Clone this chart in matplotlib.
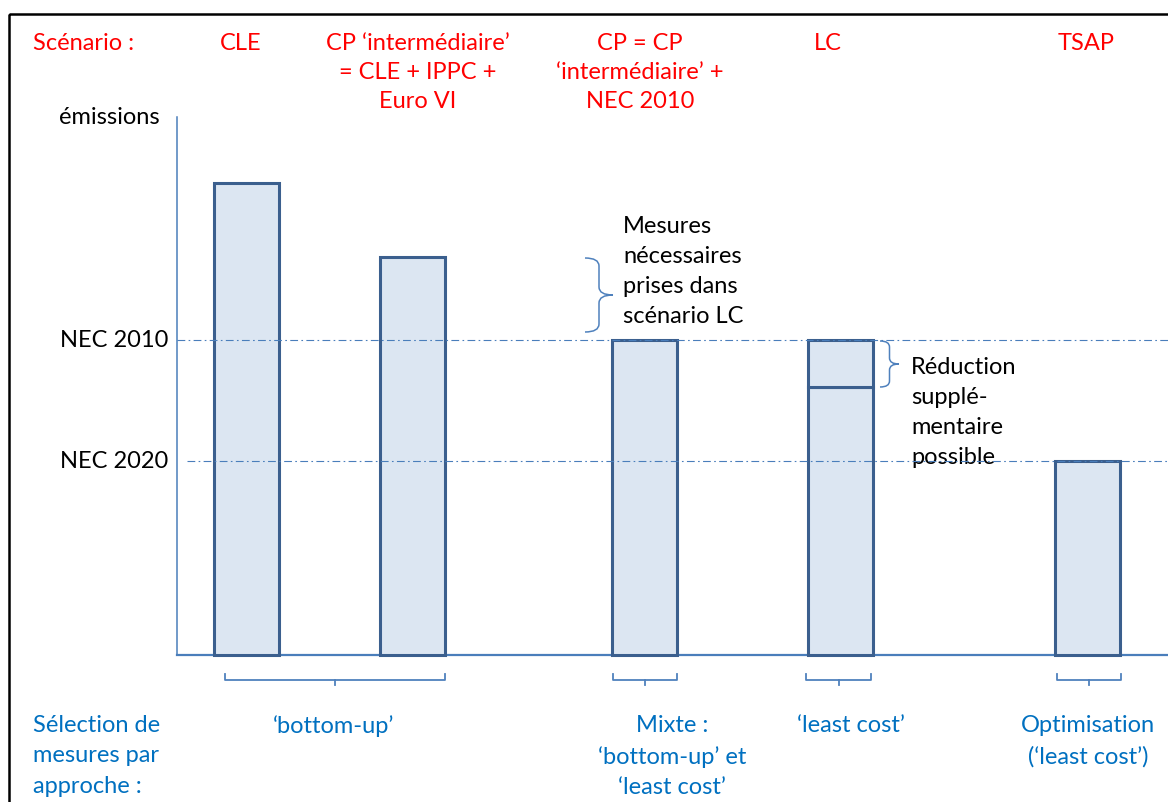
import matplotlib
matplotlib.use("Agg")
import matplotlib.pyplot as plt
from matplotlib.path import Path
from matplotlib.patches import PathPatch, Rectangle

# ---------------- data ----------------
scenarios = ["CLE", "CP ‘intermédiaire’\n= CLE + IPPC +\nEuro VI",
             "CP = CP\n‘intermédiaire’ +\nNEC 2010", "LC", "TSAP"]
emissions = [87.7, 74.0, 58.6, 58.6, 36.1]     # bar heights (axis top = 100)
lc_base = 49.8                                 # LC level after additional reduction
nec_levels = [58.6, 36.1]
nec_labels = ["NEC 2010", "NEC 2020"]
approaches = ["‘bottom-up’", "Mixte :\n‘bottom-up’ et\n‘least cost’",
              "‘least cost’", "Optimisation\n(‘least cost’)"]

# ---------------- style ----------------
W, H = 1168, 803
FONT = "Lato"
FS = 17
RED = "#FF0000"
BLUE_TXT = "#0070C0"
BAR_FILL = "#DCE6F2"
BAR_EDGE = "#3B5F8E"
AX_COL = "#4A7EBB"
BRACE_COL = "#4F81BD"

plt.rcParams["font.family"] = [FONT, "DejaVu Sans"]

fig = plt.figure(figsize=(W / 100, H / 100), dpi=100)

# overlay in pixel coordinates for text / braces
ov = fig.add_axes([0, 0, 1, 1])
ov.set_xlim(0, W)
ov.set_ylim(H, 0)
ov.axis("off")

# main axes: pixel x from 177 to 1168, y 656 (0) .. 118 (100)
x0, x1, ybot, ytop = 177, 1168, 656, 118
ax = fig.add_axes([x0 / W, (H - ybot) / H, (x1 - x0) / W, (ybot - ytop) / H])
ax.set_xlim(x0, x1)
ax.set_ylim(0, 100)
ax.axis("off")

bar_x = [246, 412, 644.5, 840, 1087.5]
bw = 65
for i, (x, h) in enumerate(zip(bar_x, emissions)):
    if i == 3:
        ax.bar(x, lc_base, width=bw, color=BAR_FILL, edgecolor=BAR_EDGE,
               linewidth=2.2, zorder=3, clip_on=False)
        ax.bar(x, h - lc_base, bottom=lc_base, width=bw, color=BAR_FILL,
               edgecolor=BAR_EDGE, linewidth=2.2, zorder=3, clip_on=False)
    else:
        ax.bar(x, h, width=bw, color=BAR_FILL, edgecolor=BAR_EDGE,
               linewidth=2.2, zorder=3, clip_on=False)

# axes lines
ax.plot([x0, x0], [0, 100], color=AX_COL, lw=1.1, clip_on=False, zorder=2)
ax.plot([x0, x1], [0, 0], color=AX_COL, lw=1.6, clip_on=False, zorder=2)

# NEC reference lines
starts = [177, 187]
for lvl, lab, xs in zip(nec_levels, nec_labels, starts):
    ax.plot([xs, x1], [lvl, lvl], color=AX_COL, lw=0.8,
            dashes=(7, 3, 1.5, 3), zorder=4, clip_on=False)
    ypix = ybot - lvl / 100 * (ybot - ytop)
    ov.text(168, ypix, lab, ha="right", va="center", fontsize=FS, color="black")

ov.text(160, 117, "émissions", ha="right", va="center", fontsize=FS, color="black")

# frame
ov.add_patch(Rectangle((8.5, 14.5), W + 20, H + 20, fill=False,
                       edgecolor="black", lw=1.8, clip_on=False))

# scenario labels
ov.text(33, 43, "Scénario :", ha="left", va="center", fontsize=FS, color=RED)
sc_x = [241, 418, 640, 828, 1086]
for s, x in zip(scenarios, sc_x):
    ov.text(x, 33.5, s, ha="center", va="top", fontsize=FS, color=RED,
            linespacing=1.45)

# approach labels
ov.text(33, 715, "Sélection de\nmesures par\napproche :", ha="left", va="top",
        fontsize=FS, color=BLUE_TXT, linespacing=1.55)
ap_x = [334, 672, 851, 1088]
for a, x in zip(approaches, ap_x):
    ov.text(x, 715, a, ha="center", va="top", fontsize=FS, color=BLUE_TXT,
            linespacing=1.55)

# annotation texts
ov.text(623, 216, "Mesures\nnécessaires\nprises dans\nscénario LC", ha="left",
        va="top", fontsize=FS, color="black", linespacing=1.52)
ov.text(911, 357, "Réduction\nsupplé-\nmentaire\npossible", ha="left",
        va="top", fontsize=FS, color="black", linespacing=1.52, zorder=1)


def vbrace(xl, xtip, yt, yb, r=8):
    xm = (xl + xtip) / 2
    ym = (yt + yb) / 2
    codes = [Path.MOVETO, Path.CURVE3, Path.CURVE3, Path.LINETO, Path.CURVE3,
             Path.CURVE3, Path.MOVETO, Path.CURVE3, Path.CURVE3, Path.LINETO,
             Path.CURVE3, Path.CURVE3]
    verts = [(xl, yt), (xm, yt), (xm, yt + r), (xm, ym - r), (xm, ym), (xtip, ym),
             (xtip, ym), (xm, ym), (xm, ym + r), (xm, yb - r), (xm, yb), (xl, yb)]
    ov.add_patch(PathPatch(Path(verts, codes), fill=False, edgecolor=BRACE_COL,
                           lw=1.1))


def hbrace(xl, xr, ytop_, ytip):
    ym = (ytop_ + ytip) / 2
    xc = (xl + xr) / 2
    ov.plot([xl, xl, xr, xr], [ytop_, ym, ym, ytop_], color=BRACE_COL, lw=1.3)
    ov.plot([xc, xc], [ym, ytip], color=BRACE_COL, lw=1.3)


vbrace(585, 613, 259, 333)
vbrace(880, 899, 342, 388, r=6)

for xl, xr in [(225, 445), (613, 677), (806, 871), (1057, 1121)]:
    hbrace(xl, xr, 675, 686)

fig.savefig("out.png", dpi=100)
